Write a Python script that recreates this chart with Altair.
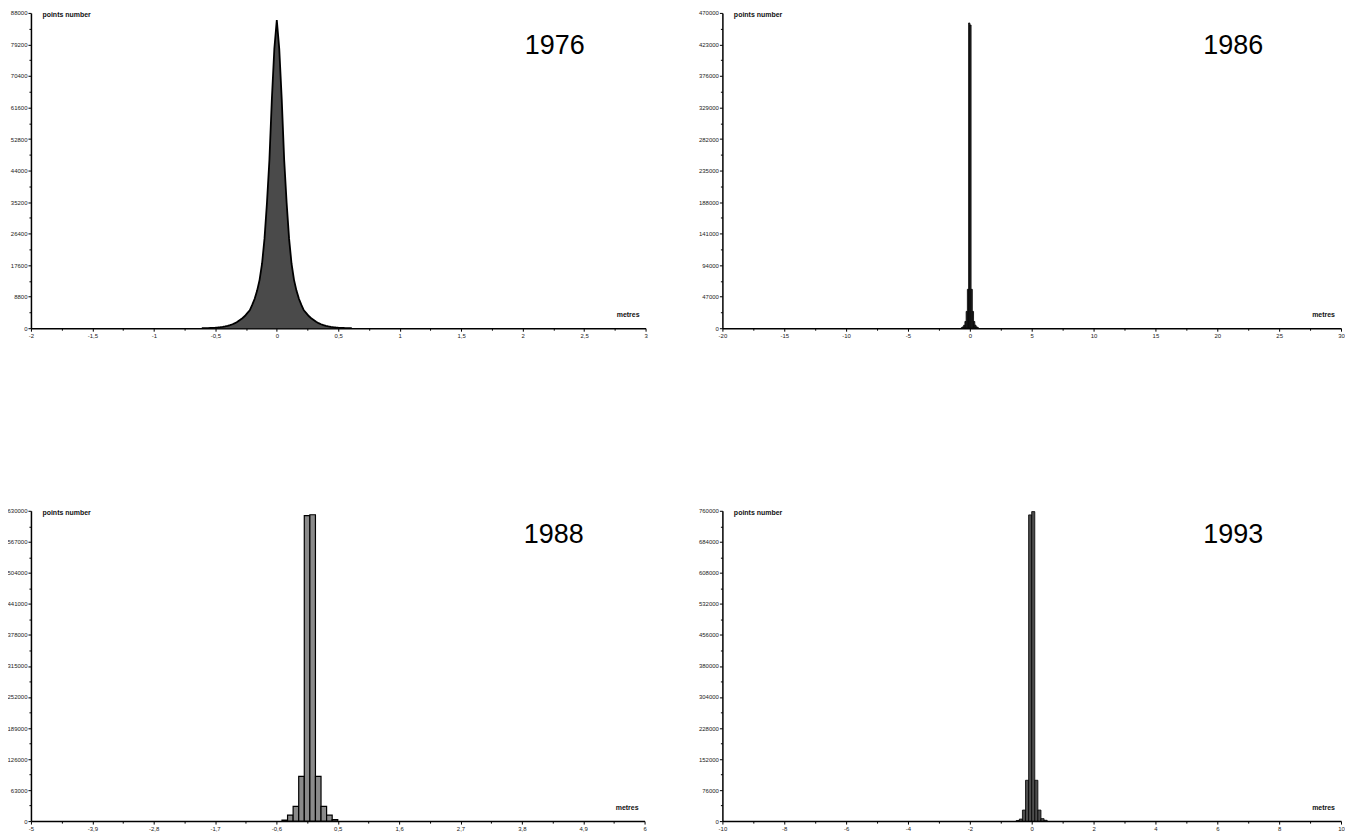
import json
import altair as alt
import pandas as pd

# ---------------- data ----------------
years = ["1976", "1986", "1988", "1993"]

# 1976: bins of 0.02 m, first bin starting at -0.61 m
bins1976_start = -0.61
bins1976_width = 0.02
counts_1976 = [15, 25, 45, 70, 100, 140, 200, 280, 380, 500, 650, 850, 1100, 1400,
               1800, 2300, 2800, 3400, 4200, 5000, 6500, 8200, 10500, 13500, 18000,
               25000, 35000, 47000, 64000, 78000, 86000, 78000, 64000, 47000, 35000,
               25000, 18000, 13500, 10500, 8200, 6500, 5000, 4200, 3400, 2800, 2300,
               1800, 1400, 1100, 850, 650, 500, 380, 280, 200, 140, 100, 70, 45, 25, 15]

# 1986: bins of 0.1 m starting at -0.7 m
bins1986_start = -0.7
bins1986_width = 0.1
counts_1986 = [800, 2000, 4500, 10000, 25000, 58000, 455000, 452000, 58000, 25000,
               10000, 4500, 2000, 800]

# 1988: bins of 0.1 m starting at -0.5 m
bins1988_start = -0.5
bins1988_width = 0.1
counts_1988 = [2000, 12000, 30000, 91000, 620000, 622000, 91000, 30000, 12000, 3000]

# 1993: bins of 0.1 m starting at -0.5 m
bins1993_start = -0.5
bins1993_width = 0.1
counts_1993 = [1500, 5000, 27000, 100000, 750000, 758000, 100000, 27000, 6000, 2000]

# axis tick labels
x_major_1976 = [-2, -1.5, -1, -0.5, 0, 0.5, 1, 1.5, 2, 2.5, 3]
x_major_1986 = [-20, -15, -10, -5, 0, 5, 10, 15, 20, 25, 30]
x_major_1988 = [-5, -3.9, -2.8, -1.7, -0.6, 0.5, 1.6, 2.7, 3.8, 4.9, 6]
x_major_1993 = [-10, -8, -6, -4, -2, 0, 2, 4, 6, 8, 10]
y_step = {"1976": 8800, "1986": 47000, "1988": 63000, "1993": 76000}

FONT = "Liberation Sans"


def make_df(start, width, counts):
    rows = []
    for i, c in enumerate(counts):
        rows.append({"x0": round(start + i * width, 4),
                     "x1": round(start + (i + 1) * width, 4),
                     "count": c})
    return pd.DataFrame(rows)


def axes(xmaj, ystep, width):
    xmin = [(a + b) / 2 for a, b in zip(xmaj[:-1], xmaj[1:])]
    ymaj = [ystep * i for i in range(11)]
    ymin = [ystep * i + ystep // 2 for i in range(10)]
    mj = json.dumps(xmaj)
    xaxis = alt.Axis(
        values=xmaj + xmin,
        labelExpr=f"indexof({mj}, datum.value) >= 0 ? replace(toString(datum.value), '.', ',') : ''",
        tickSize={"condition": {"test": f"indexof({mj}, datum.value) < 0", "value": 2}, "value": 3},
        labelOverlap=False, labelFlush=False, labelPadding=1,
        labelFontSize=6, labelFont=FONT, labelColor="#222",
        grid=False, domainColor="black", domainWidth=1.5, tickColor="black", tickWidth=1,
        title="metres", titleX=width - 18, titleY=-14, titleAlign="center",
        titleBaseline="middle", titleFontSize=7, titleFont=FONT, titleFontWeight="bold",
        titleColor="#111",
    )
    yaxis = alt.Axis(
        values=ymaj + ymin,
        labelExpr=f"datum.value % {ystep} == 0 ? toString(datum.value) : ''",
        tickSize={"condition": {"test": f"datum.value % {ystep} != 0", "value": 2}, "value": 3},
        labelOverlap=False, labelFlush=False, labelPadding=1,
        labelFontSize=6, labelFont=FONT, labelColor="#222",
        grid=False, domainColor="black", domainWidth=1.5, tickColor="black", tickWidth=1,
        title="points number", titleAngle=0, titleX=11, titleY=-2, titleAlign="left",
        titleBaseline="top", titleFontSize=7, titleFont=FONT, titleFontWeight="bold",
        titleColor="#111",
    )
    return xaxis, yaxis, ymaj[-1]


def year_text(year, px, py):
    return alt.Chart(pd.DataFrame({"label": [year]})).mark_text(
        font=FONT, fontSize=27, color="black", align="center", baseline="middle"
    ).encode(text="label:N", x=alt.value(px), y=alt.value(py))


def panel(year, df, xmaj, width, height, kind, fill, stroke_w, tx, ty):
    xaxis, yaxis, ymax = axes(xmaj, y_step[year], width)
    xs = alt.Scale(domain=[xmaj[0], xmaj[-1]], nice=False, zero=False)
    ys = alt.Scale(domain=[0, ymax], nice=False)
    if kind == "area":
        centers = [(a + b) / 2 for a, b in zip(df["x0"], df["x1"])]
        pts = pd.DataFrame({"x": [df["x0"].iloc[0]] + centers + [df["x1"].iloc[-1]],
                            "count": [0] + list(df["count"]) + [0]})
        hist = alt.Chart(pts).mark_area(
            interpolate="linear", color=fill, opacity=1, fillOpacity=1,
            line={"color": "black", "strokeWidth": stroke_w},
        ).encode(x=alt.X("x:Q", scale=xs, axis=xaxis),
                 y=alt.Y("count:Q", scale=ys, axis=yaxis))
    else:
        hist = alt.Chart(df).mark_bar(
            color=fill, stroke="black", strokeWidth=stroke_w, opacity=1
        ).encode(x=alt.X("x0:Q", scale=xs, axis=xaxis), x2="x1:Q",
                 y=alt.Y("count:Q", scale=ys, axis=yaxis), y2=alt.datum(0))
    return alt.layer(hist, year_text(year, tx, ty)).properties(width=width, height=height)


p1976 = panel("1976", make_df(bins1976_start, bins1976_width, counts_1976), x_major_1976,
              616, 316, "area", "#4a4a4a", 1.8, 616 - 91, 33)
p1986 = panel("1986", make_df(bins1986_start, bins1986_width, counts_1986), x_major_1986,
              620, 316, "bar", "#333333", 0.8, 620 - 108, 33)
p1988 = panel("1988", make_df(bins1988_start, bins1988_width, counts_1988), x_major_1988,
              615, 311, "bar", "#8a8a8a", 1.2, 615 - 91, 24)
p1993 = panel("1993", make_df(bins1993_start, bins1993_width, counts_1993), x_major_1993,
              620, 311, "bar", "#4d4d4d", 0.8, 620 - 108, 24)

chart = alt.concat(
    p1976, p1986, p1988, p1993, columns=2, align="none",
    spacing={"row": 170, "column": 50},
).properties(
    padding={"left": -2, "top": 1, "right": 0, "bottom": 0}
).configure_view(strokeWidth=0, stroke=None)

chart.save("out.html", embed_options={"renderer": "svg", "actions": False})
